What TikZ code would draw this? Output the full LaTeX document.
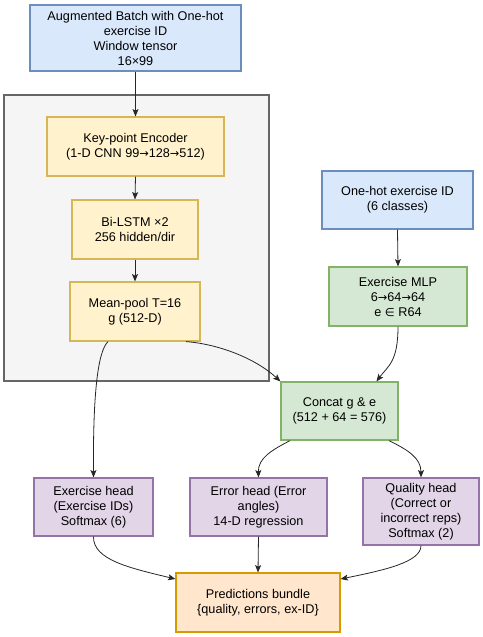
\documentclass[tikz,border=0pt]{standalone}
\usepackage{fontspec}
\setmainfont{Liberation Sans}
\newfontfamily\symfont{DejaVu Sans}
\newcommand{\rarr}{{\symfont\fontsize{8.5pt}{11.25pt}\selectfont →}}
\newcommand{\elemof}{{\symfont\fontsize{8.5pt}{11.25pt}\selectfont ∈}}
\usetikzlibrary{arrows.meta,calc}
\definecolor{bluef}{HTML}{DAE8FC}\definecolor{blued}{HTML}{6C8EBF}
\definecolor{yelf}{HTML}{FFF2CC}\definecolor{yeld}{HTML}{D6B656}
\definecolor{grnf}{HTML}{D5E8D4}\definecolor{grnd}{HTML}{82B366}
\definecolor{purf}{HTML}{E1D5E7}\definecolor{purd}{HTML}{9673A6}
\definecolor{orf}{HTML}{FFE6CC}\definecolor{ord}{HTML}{D79B00}
\definecolor{grayf}{HTML}{F5F5F5}\definecolor{grayd}{HTML}{666666}
\begin{document}
\begin{tikzpicture}[x=0.75pt,y=-0.75pt,
  every node/.style={font=\fontsize{9.5pt}{11.25pt}\selectfont, align=center, inner sep=0pt, line width=0.9pt},
  sz/.style 2 args={minimum width=#1*0.75pt, minimum height=#2*0.75pt},
  bluebox/.style={draw=blued, fill=bluef},
  yelbox/.style={draw=yeld, fill=yelf},
  grnbox/.style={draw=grnd, fill=grnf},
  purbox/.style={draw=purd, fill=purf},
  orbox/.style={draw=ord, fill=orf},
  link/.style={draw=black!85, line width=0.6pt, -{Stealth[length=5.5pt,width=4.5pt,inset=1.2pt]}}]
\useasboundingbox (0,0) rectangle (483,637);

% encoder group
\node[draw=grayd, fill=grayf, sz={265}{286}] (enc) at (136.5,238) {};

\node[bluebox, sz={211}{66}] (inp) at (135.5,38) {Augmented Batch with One-hot\\exercise ID\\Window tensor\\16×99};
\node[yelbox, sz={177}{59}] (kp) at (135.5,146.5) {Key-point Encoder\\(1-D CNN 99\rarr128\rarr512)};
\node[yelbox, sz={126}{59}] (lstm) at (135,229.5) {Bi-LSTM ×2\\256 hidden/dir};
\node[yelbox, sz={130}{59}] (pool) at (135,311.5) {Mean-pool T=16\\g (512-D)};

\node[bluebox, sz={151}{58}] (oh) at (397.5,200) {One-hot exercise ID\\(6 classes)};
\node[grnbox, sz={138}{59}] (mlp) at (398,296.5) {Exercise MLP\\6\rarr64\rarr64\\e \elemof{} R64};
\node[grnbox, sz={117}{58}] (cat) at (339.5,411) {Concat g \& e\\(512 + 64 = 576)};

\node[purbox, sz={119}{58}] (exh) at (93.5,507) {Exercise head\\(Exercise IDs)\\Softmax (6)};
\node[purbox, sz={137}{58}] (errh) at (258.5,507) {Error head (Error\\angles)\\14-D regression};
\node[purbox, sz={116}{67}] (qh) at (421,511.5) {Quality head\\(Correct or\\incorrect reps)\\Softmax (2)};

\node[orbox, sz={164}{59}] (pred) at (258,602.5) {Predictions bundle\\\{quality, errors, ex-ID\}};

% straight links
\draw[link] (inp.south) -- (kp.north);
\draw[link] (kp.south) -- (lstm.north);
\draw[link] (lstm.south) -- (pool.north);
\draw[link] (oh.south) -- (mlp.north);
\draw[link] (errh.south) -- (pred.north);

% curved links
\coordinate (mlpout) at (mlp.south);
\coordinate (catinR) at ($(cat.north)+(37,0)$);
\draw[link] (mlpout) .. controls (398,362) and (388,366) .. (catinR);

\coordinate (poolR) at ($(pool.south)+(51,0)$);
\draw[link] (poolR) .. controls (218,344) and (255,358) .. (cat.north west);

\coordinate (poolL) at ($(pool.south)+(-27,0)$);
\draw[link] (poolL) .. controls (97,352) and (93,400) .. (exh.north);

\coordinate (catL) at ($(cat.south)+(-49.5,0)$);
\coordinate (catR) at ($(cat.south)+(49.5,0)$);
\draw[link] (catL) .. controls (272,450) and (258,458) .. (errh.north);
\draw[link] (catR) .. controls (408,450) and (421,458) .. (qh.north);

\coordinate (predL) at ($(pred.west)+(0,-23.5)$);
\coordinate (predR) at ($(pred.east)+(0,-23.5)$);
\draw[link] (exh.south) .. controls (93,560) and (130,568) .. (predL);
\draw[link] (qh.south) .. controls (421,562) and (385,570) .. (predR);
\end{tikzpicture}
\end{document}
